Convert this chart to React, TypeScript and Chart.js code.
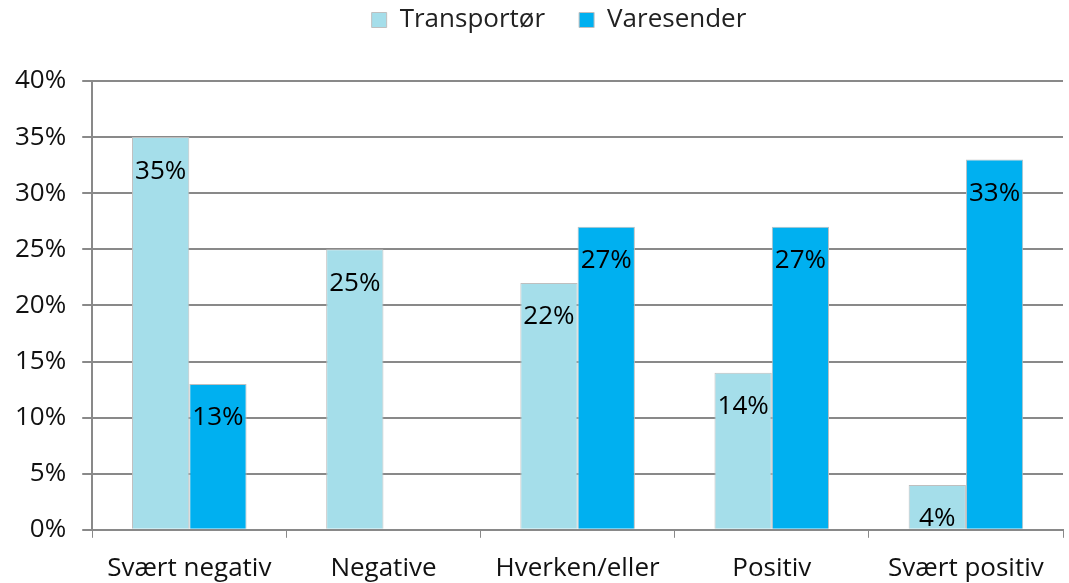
import React, { useEffect, useRef } from "react";
import { Chart, registerables } from "chart.js";

Chart.register(...registerables);

const categories = ["Svært negativ", "Negative", "Hverken/eller", "Positiv", "Svært positiv"];
const transportor = [35, 25, 22, 14, 4];
const varesender = [13, 0, 27, 27, 33];
const seriesNames = ["Transportør", "Varesender"];

const FONT = "'Open Sans', 'Noto Sans', sans-serif";

const labelPlugin = {
  id: "barLabels",
  afterDatasetsDraw(chart: any) {
    const ctx = chart.ctx;
    ctx.save();
    ctx.font = `26px ${FONT}`;
    ctx.fillStyle = "#000";
    ctx.textAlign = "center";
    ctx.textBaseline = "middle";
    chart.data.datasets.forEach((ds: any, i: number) => {
      const meta = chart.getDatasetMeta(i);
      meta.data.forEach((bar: any, j: number) => {
        const v = ds.data[j];
        if (!v) return;
        ctx.fillText(`${v}%`, bar.x, bar.y + 34);
      });
    });
    ctx.restore();
  },
};

const legendSpacing = {
  id: "legendSpacing",
  beforeInit(chart: any) {
    const legend = chart.legend;
    if (!legend) return;
    const orig = legend.fit;
    legend.fit = function () {
      orig.call(this);
      this.height += 38;
    };
  },
  afterLayout(chart: any) {
    const legend = chart.legend;
    if (!legend) return;
    legend.left += 28;
    legend.right += 28;
  },
};

export default function App() {
  const ref = useRef<HTMLCanvasElement>(null);
  useEffect(() => {
    document.body.style.margin = "0";
    const chart = new Chart(ref.current!, {
      type: "bar",
      data: {
        labels: categories,
        datasets: [
          {
            label: seriesNames[0],
            data: transportor,
            backgroundColor: "#A5DEEA",
            borderColor: "#BFBFBF",
            borderWidth: 1,
            categoryPercentage: 0.59,
            barPercentage: 1,
          },
          {
            label: seriesNames[1],
            data: varesender,
            backgroundColor: "#00B0F0",
            borderColor: "#BFBFBF",
            borderWidth: 1,
            categoryPercentage: 0.59,
            barPercentage: 1,
          },
        ],
      },
      options: {
        animation: false,
        responsive: false,
        layout: { padding: { left: -1, right: 6, top: 0, bottom: -16 } },
        plugins: {
          legend: {
            position: "top",
            labels: {
              font: { family: FONT, size: 26 },
              color: "#222",
              boxWidth: 15,
              boxHeight: 15,
              padding: 7,
              generateLabels: (chart: any) => {
                const items = Chart.defaults.plugins.legend.labels.generateLabels(chart);
                items.forEach((it: any, idx: number) => {
                  if (idx === 0) it.text = it.text + "    ";
                });
                return items;
              },
            },
          },
          tooltip: { enabled: false },
        },
        scales: {
          x: {
            grid: {
              display: true,
              drawOnChartArea: false,
              drawTicks: true,
              offset: true,
              tickLength: 8,
              color: "#898989",
            },
            border: { color: "#898989", width: 2 },
            ticks: { font: { family: FONT, size: 26 }, color: "#111", padding: 15 },
          },
          y: {
            min: 0,
            max: 40,
            ticks: {
              stepSize: 5,
              callback: (v: any) => `${v}%`,
              font: { family: FONT, size: 26 },
              color: "#111",
              padding: 16,
            },
            grid: { color: "#898989", lineWidth: 2, tickLength: 10 },
            border: { color: "#898989", width: 2 },
          },
        },
      },
      plugins: [labelPlugin, legendSpacing],
    });
    return () => chart.destroy();
  }, []);
  return <canvas ref={ref} width={1069} height={583} />;
}
